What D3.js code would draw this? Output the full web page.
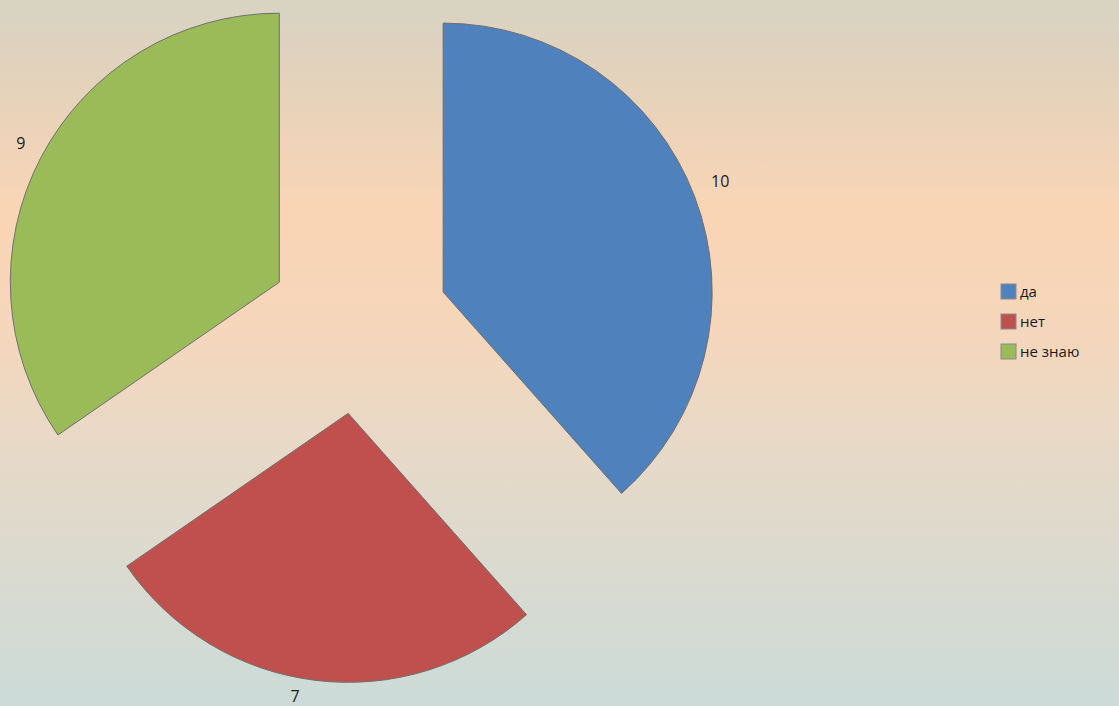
<!DOCTYPE html>
<html><head><meta charset="utf-8">
<script src="https://cdn.jsdelivr.net/npm/d3@7"></script>
<style>html,body{margin:0;padding:0;overflow:hidden}</style>
</head><body>
<svg id="c" width="1119" height="706"></svg>
<script>
const categories = ["да", "нет", "не знаю"];
const values = [10, 7, 9];
const colors = ["#4f81bd", "#c0504d", "#9bbb59"];

const svg = d3.select("#c");
const defs = svg.append("defs");
const g = defs.append("linearGradient").attr("id","bg").attr("x1",0).attr("y1",0).attr("x2",0).attr("y2",1);
[[0,"#d8d3c3"],[0.12,"#e4d2bb"],[0.3,"#fad5b5"],[0.45,"#f6d6ba"],[0.65,"#e6d9c8"],[1,"#cbdbd8"]].forEach(s=>g.append("stop").attr("offset",s[0]).attr("stop-color",s[1]));
svg.append("rect").attr("width",1119).attr("height",706).attr("fill","url(#bg)");

const cx = 359, cy = 324, R = 269, explode = 90, labelR = 292;
const labelNudge = [[4,-8],[-18,-7],[0,-3]];
const pie = d3.pie().sort(null).value(d=>d)(values);
const arc = d3.arc().innerRadius(0).outerRadius(R);
const root = svg.append("g").attr("transform",`translate(${cx},${cy})`);

pie.forEach((p,i)=>{
  const mid = (p.startAngle+p.endAngle)/2;
  const dx = explode*Math.sin(mid), dy = -explode*Math.cos(mid);
  const sg = root.append("g").attr("transform",`translate(${dx},${dy})`);
  sg.append("path").attr("d",arc(p)).attr("fill",colors[i]).attr("stroke","#6f6f6f").attr("stroke-width",1);
  sg.append("text")
    .attr("x", labelR*Math.sin(mid)+labelNudge[i][0]).attr("y", -labelR*Math.cos(mid)+labelNudge[i][1])
    .attr("text-anchor","middle").attr("dominant-baseline","central")
    .attr("font-family","Open Sans, sans-serif").attr("font-size",16).attr("fill","#1a1a1a")
    .text(values[i]);
});

const lg = svg.append("g").attr("transform","translate(1001,284)");
categories.forEach((c,i)=>{
  const row = lg.append("g").attr("transform",`translate(0,${i*30})`);
  row.append("rect").attr("width",15).attr("height",15).attr("fill",colors[i]).attr("stroke","#8a8a8a").attr("stroke-width",1);
  row.append("text").attr("x",19).attr("y",13).attr("font-family","Open Sans, sans-serif").attr("font-size",15).attr("fill","#1a1a1a").text(c);
});
</script>
</body></html>
